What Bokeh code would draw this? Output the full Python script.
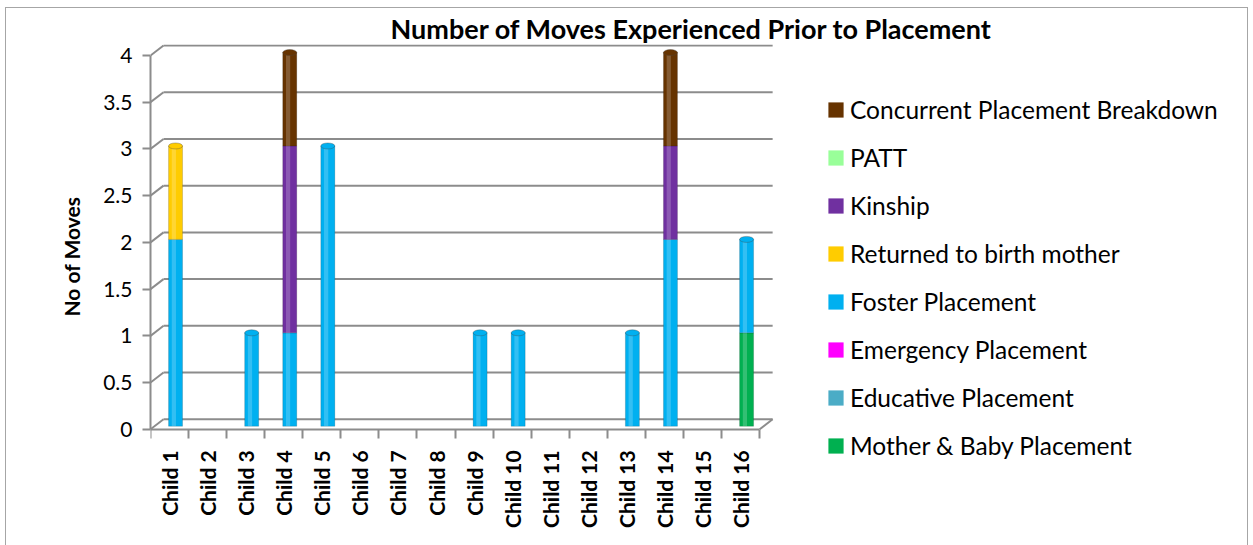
import numpy as np
from bokeh.plotting import figure
from bokeh.models import FixedTicker, Legend, LegendItem, Range1d, ColumnDataSource, Title
from bokeh.embed import file_html
from bokeh.resources import INLINE

# ---------------- data ----------------
children = ["Child 1", "Child 2", "Child 3", "Child 4", "Child 5", "Child 6", "Child 7", "Child 8",
            "Child 9", "Child 10", "Child 11", "Child 12", "Child 13", "Child 14", "Child 15", "Child 16"]
mother_baby = [0, 0, 0, 0, 0, 0, 0, 0, 0, 0, 0, 0, 0, 0, 0, 1]
educative   = [0, 0, 0, 0, 0, 0, 0, 0, 0, 0, 0, 0, 0, 0, 0, 0]
emergency   = [0, 0, 0, 0, 0, 0, 0, 0, 0, 0, 0, 0, 0, 0, 0, 0]
foster      = [2, 0, 1, 1, 3, 0, 0, 0, 1, 1, 0, 0, 1, 2, 0, 1]
returned    = [1, 0, 0, 0, 0, 0, 0, 0, 0, 0, 0, 0, 0, 0, 0, 0]
kinship     = [0, 0, 0, 2, 0, 0, 0, 0, 0, 0, 0, 0, 0, 1, 0, 0]
patt        = [0, 0, 0, 0, 0, 0, 0, 0, 0, 0, 0, 0, 0, 0, 0, 0]
concurrent  = [0, 0, 0, 1, 0, 0, 0, 0, 0, 0, 0, 0, 0, 1, 0, 0]

series_names = ["Mother & Baby Placement", "Educative Placement", "Emergency Placement",
                "Foster Placement", "Returned to birth mother", "Kinship", "PATT",
                "Concurrent Placement Breakdown"]
series_vals = [mother_baby, educative, emergency, foster, returned, kinship, patt, concurrent]
series_colors = ["#00B050", "#4BACC6", "#FF00FF", "#00B0F0", "#FFCC00", "#7030A0", "#99FF99", "#663300"]
y_ticks = [0, 0.5, 1, 1.5, 2, 2.5, 3, 3.5, 4]
y_tick_labels = ["0", "0.5", "1", "1.5", "2", "2.5", "3", "3.5", "4"]

# ---------------- layout (page coordinates) ----------------
OX, OY = 6, 8                 # canvas origin on the page
W, H = 1241, 537
PL, PR, PT, PB = 150, 1240, 44, 540   # frame edges on the page
Y0 = 428                              # page y of value 0
px_x = 38.0
px_y = (Y0 - 55) / 4.0
x_end = (PR - PL) / px_x
y_start = -(PB - Y0) / px_y
y_end = (Y0 - PT) / px_y

p = figure(width=W, height=H, output_backend="svg", toolbar_location=None,
           x_range=Range1d(0, x_end), y_range=Range1d(y_start, y_end),
           min_border_left=PL - OX, min_border_right=W - (PR - OX),
           min_border_top=PT - OY, min_border_bottom=H - (PB - OY))
p.outline_line_color = None
p.xgrid.visible = False
p.ygrid.visible = False
p.background_fill_color = "white"
p.border_fill_color = "white"
p.styles = {"margin-left": "5px", "margin-top": "7px", "box-sizing": "content-box",
            "border-left": "1px solid #a6a6a6", "border-top": "1px solid #a6a6a6",
            "border-right": "1px solid #a6a6a6"}

GRID = "#8c8c8c"
n = len(children)
dxw = 13.0 / px_x
dyw = 10.0 / px_y
k = len(y_ticks)
# slanted tick joins + back wall gridlines
p.segment(x0=[0] * k, y0=y_ticks, x1=[dxw] * k, y1=[t + dyw for t in y_ticks],
          line_color=GRID, line_width=2)
p.segment(x0=[dxw] * k, y0=[t + dyw for t in y_ticks], x1=[n + dxw] * k,
          y1=[t + dyw for t in y_ticks], line_color=GRID, line_width=2)
p.segment(x0=[n], y0=[0], x1=[n + dxw], y1=[dyw], line_color=GRID, line_width=2)

# bars (cylinders)
xs = np.arange(n) + 0.5 + 6.0 / px_x
bar_w = 14.0 / px_x
bdy = 3.0 / px_y
bottom = np.zeros(n)
renderers = {}
top_col = [None] * n
for name, vals, col in zip(series_names, series_vals, series_colors):
    vals = np.array(vals, dtype=float)
    src = ColumnDataSource(dict(x=xs, bottom=bottom + bdy, top=bottom + vals + bdy))
    r = p.vbar(x="x", bottom="bottom", top="top", width=bar_w, source=src,
               fill_color=col, line_color=None)
    nz = vals > 0
    edge = ColumnDataSource(dict(x=xs[nz], bottom=(bottom + bdy)[nz], top=(bottom + vals + bdy)[nz]))
    # darker rim and light highlight for a cylinder look
    p.vbar(x="x", bottom="bottom", top="top", width=bar_w, source=edge,
           fill_color=None, line_color="black", line_alpha=0.15, line_width=1)
    hl = ColumnDataSource(dict(x=xs[nz] - bar_w * 0.12, bottom=(bottom + bdy)[nz],
                               top=(bottom + vals + bdy)[nz]))
    p.vbar(x="x", bottom="bottom", top="top", width=bar_w * 0.3, source=hl,
           fill_color="white", fill_alpha=0.2, line_color=None)
    renderers[name] = r
    for i in range(n):
        if vals[i] > 0:
            top_col[i] = col
    bottom = bottom + vals
mask = bottom > 0
p.ellipse(x=xs[mask], y=bottom[mask] + bdy, width=bar_w, height=6, height_units="screen",
          fill_color=[top_col[i] for i in range(n) if mask[i]],
          line_color="#444444", line_alpha=0.35)

# y axis
p.yaxis.ticker = FixedTicker(ticks=y_ticks)
p.yaxis.major_label_overrides = {t: l for t, l in zip(y_ticks, y_tick_labels)}
p.yaxis.bounds = (0, 4)
p.yaxis.axis_line_color = GRID
p.yaxis.axis_line_width = 2
p.yaxis.major_tick_line_color = GRID
p.yaxis.major_tick_line_width = 2
p.yaxis.major_tick_out = 8
p.yaxis.major_tick_in = 0
p.yaxis.minor_tick_line_color = None
p.yaxis.major_label_text_font = "Lato"
p.yaxis.major_label_text_font_size = "21px"
p.yaxis.major_label_text_color = "#000000"
p.yaxis.major_label_standoff = 10

# y-axis title, placed in the left panel so it can be positioned along the axis
ytitle = Title(text="No of Moves", align="left", offset=PB - 315,
               text_font="Lato", text_font_style="bold", text_font_size="21px",
               text_color="#000000", standoff=33)
p.add_layout(ytitle, "left")

# x axis, drawn at value 0 inside the frame
centers = [i + 0.5 for i in range(n)]
bounds_ticks = [float(i) for i in range(n + 1)]
p.xaxis.fixed_location = 0
p.xaxis.ticker = FixedTicker(ticks=centers, minor_ticks=bounds_ticks)
p.xaxis.major_label_overrides = {c: lab for c, lab in zip(centers, children)}
p.xaxis.bounds = (0, n)
p.xaxis.axis_line_color = GRID
p.xaxis.axis_line_width = 2
p.xaxis.major_tick_line_color = None
p.xaxis.major_tick_out = 0
p.xaxis.major_tick_in = 0
p.xaxis.minor_tick_line_color = GRID
p.xaxis.minor_tick_line_width = 2
p.xaxis.minor_tick_out = 9
p.xaxis.minor_tick_in = 0
p.xaxis.major_label_orientation = np.pi / 2
p.xaxis.major_label_standoff = 12
p.xaxis.major_label_text_font = "Lato"
p.xaxis.major_label_text_font_style = "bold"
p.xaxis.major_label_text_font_size = "21px"
p.xaxis.major_label_text_color = "#000000"

# title
p.title.text = "Number of Moves Experienced Prior to Placement"
p.title.align = "left"
p.title.offset = 390 - PL
p.title.text_font = "Lato"
p.title.text_font_style = "bold"
p.title.text_font_size = "27px"
p.title.text_color = "#000000"
p.title.standoff = 0

# legend inside the frame
items = [LegendItem(label=name, renderers=[renderers[name]]) for name in reversed(series_names)]
legend = Legend(items=items, location=(826 - PL, PB - 459))
legend.glyph_width = 19
legend.glyph_height = 19
legend.label_height = 30
legend.spacing = 18
legend.padding = 0
legend.margin = 0
legend.border_line_color = None
legend.background_fill_alpha = 0
legend.label_text_font = "Lato"
legend.label_text_font_size = "24.5px"
legend.label_text_color = "#000000"
legend.label_standoff = 5
p.add_layout(legend)

open("out.html", "w").write(file_html(p, INLINE))
